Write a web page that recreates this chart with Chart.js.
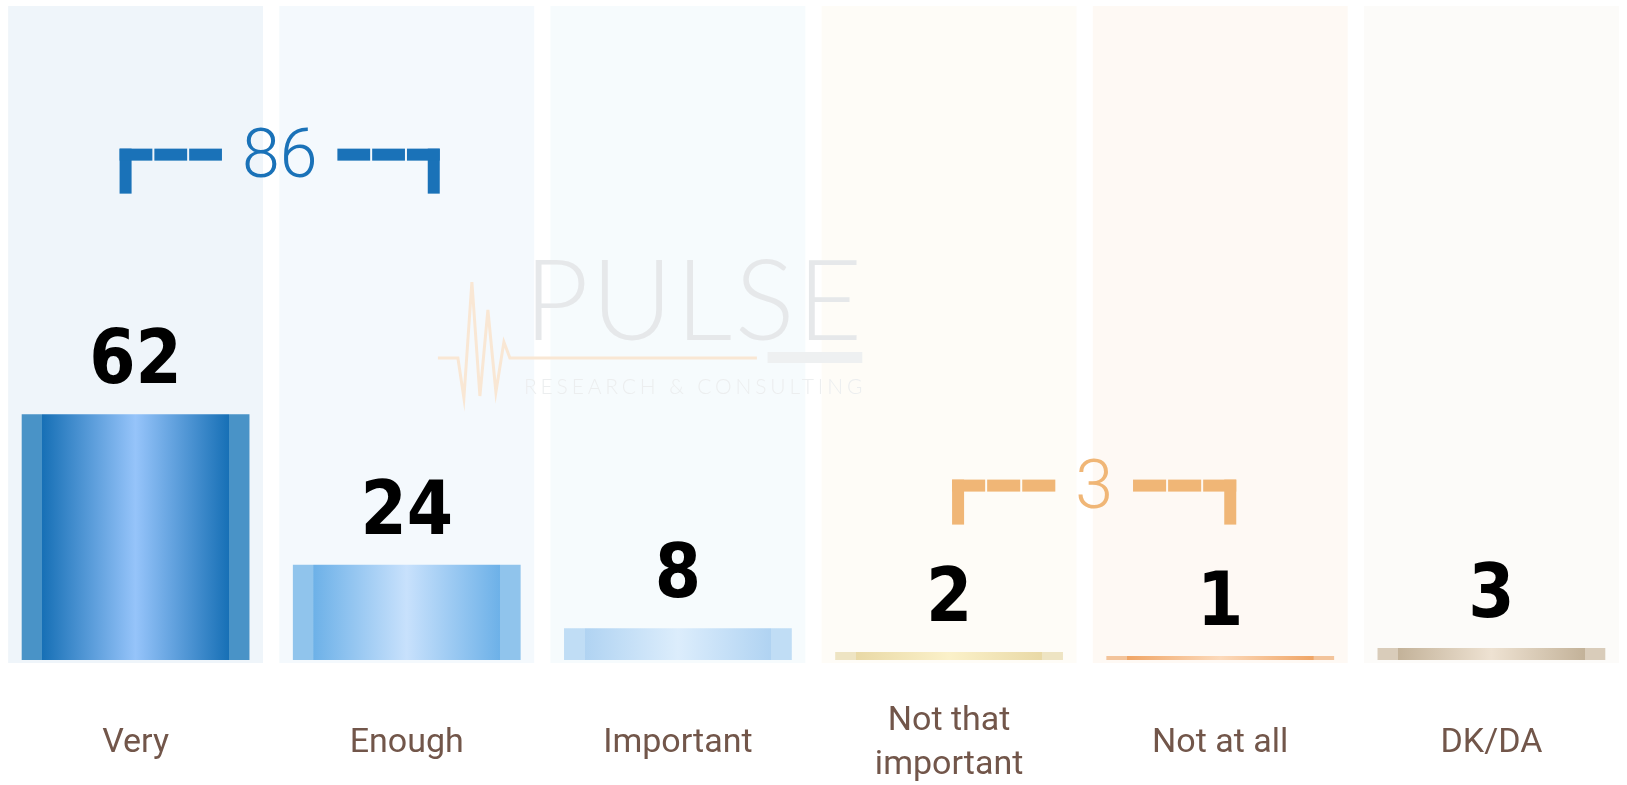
<!DOCTYPE html>
<html>
<head>
<meta charset="utf-8">
<script src="https://cdn.jsdelivr.net/npm/chart.js@4.4.1/dist/chart.umd.min.js"></script>
<style>
    html, body { margin: 0; padding: 0; background: #fff; }
    #wrap { width: 1627px; height: 785px; }
</style>
</head>
<body>
<div id="wrap"><canvas id="chart" width="1627" height="785"></canvas></div>
<script>
// Data
const categories = ["Very", "Enough", "Important", ["Not that", "important"], "Not at all", "DK/DA"];
const values = [62, 24, 8, 2, 1, 3];

// Bracket groups (sum of two answers)
const bracketFrom = [0, 3];
const bracketTo = [1, 4];
const bracketTotals = [86, 3];
const bracketLevels = [127.5, 44];

// Styles
const columnColors = ['#eff5fa', '#f4f9fd', '#f6fbfd', '#fefcf7', '#fef9f4', '#fcfbf9'];
const barEdge = ['#4993c7', '#90c4ec', '#c0ddf5', '#eee4c3', '#f3c49b', '#d9ccba'];
const barDark = ['#1770b6', '#6db1e8', '#b0d3f2', '#e9d9a6', '#f0a565', '#c3b299'];
const barLight = ['#96c4fa', '#c8e1fc', '#dcedfc', '#fbf1c9', '#fcdabb', '#eee2d2'];
const bracketColors = ['#1a72b8', '#f0b676'];
const bracketShift = [[-10, 27], [9, 10]];

const BAR_PCT = 0.84;
const condensed = "'Liberation Sans Narrow', 'DejaVu Sans Condensed', 'Roboto', sans-serif";

function barGradient(context) {
    const chart = context.chart;
    const i = context.dataIndex;
    const x = chart.scales.x;
    if (!chart.chartArea || !x) return barEdge[i];
    const cx = x.getPixelForValue(i);
    const w = x.width / categories.length * BAR_PCT;
    const g = chart.ctx.createLinearGradient(cx - w / 2, 0, cx + w / 2, 0);
    g.addColorStop(0, barEdge[i]);
    g.addColorStop(0.09, barEdge[i]);
    g.addColorStop(0.091, barDark[i]);
    g.addColorStop(0.5, barLight[i]);
    g.addColorStop(0.909, barDark[i]);
    g.addColorStop(0.91, barEdge[i]);
    g.addColorStop(1, barEdge[i]);
    return g;
}

// Column panels + watermark behind the bars
const backdropPlugin = {
    id: 'backdrop',
    beforeDraw(chart) {
        const ctx = chart.ctx;
        ctx.save();
        ctx.fillStyle = '#fff';
        ctx.fillRect(0, 0, chart.width, chart.height);
        ctx.restore();
    },
    beforeDatasetsDraw(chart) {
        const { ctx, chartArea, scales } = chart;
        const step = scales.x.width / categories.length;
        ctx.save();
        categories.forEach((c, i) => {
            const cx = scales.x.getPixelForValue(i);
            const w = step * 0.94;
            ctx.fillStyle = columnColors[i];
            ctx.fillRect(cx - w / 2, chartArea.top, w, chartArea.bottom - chartArea.top + 3);
        });

        // watermark
        const wx = chart.width * 0.322;
        const ww = chart.width * 0.208;
        ctx.fillStyle = '#e6e8ea';
        ctx.font = "300 112px Lato, 'Open Sans', sans-serif";
        ctx.textBaseline = 'alphabetic';
        ctx.textAlign = 'left';
        let m = ctx.measureText('PULSE').width;
        ctx.letterSpacing = ((ww - m) / 4) + 'px';
        ctx.fillText('PULSE', wx, 340);
        ctx.font = "300 21px Lato, 'Open Sans', sans-serif";
        ctx.letterSpacing = '0px';
        m = ctx.measureText('RESEARCH & CONSULTING').width;
        ctx.letterSpacing = ((ww - m) / 20) + 'px';
        ctx.fillStyle = '#eceeef';
        ctx.fillText('RESEARCH & CONSULTING', wx, 394);
        ctx.letterSpacing = '0px';
        ctx.fillStyle = '#eef0f1';
        ctx.fillRect(wx + ww * 0.72, 352, ww * 0.28, 11);

        ctx.strokeStyle = '#f9e7d4';
        ctx.lineWidth = 3;
        ctx.beginPath();
        const hb = [[-86, 358], [-66, 358], [-60, 398], [-52, 282], [-44, 396], [-36, 310], [-28, 392], [-20, 342], [-14, 358], [233, 358]];
        hb.forEach((p, k) => {
            if (k === 0) ctx.moveTo(wx + p[0], p[1]);
            else ctx.lineTo(wx + p[0], p[1]);
        });
        ctx.stroke();
        ctx.restore();
    }
};

// Value labels and group brackets
const labelsPlugin = {
    id: 'valueLabels',
    afterDatasetsDraw(chart) {
        const { ctx, scales } = chart;
        const meta = chart.getDatasetMeta(0);
        ctx.save();
        ctx.fillStyle = '#000';
        ctx.font = "bold 74px " + condensed;
        ctx.textAlign = 'center';
        ctx.textBaseline = 'alphabetic';
        meta.data.forEach((bar, i) => {
            ctx.fillText(String(values[i]), bar.x, bar.y - 31);
        });

        const thick = 12;
        const drop = 45;
        bracketTotals.forEach((total, b) => {
            const x1 = scales.x.getPixelForValue(bracketFrom[b]) + bracketShift[b][0];
            const x2 = scales.x.getPixelForValue(bracketTo[b]) + bracketShift[b][1];
            const y = scales.y.getPixelForValue(bracketLevels[b]);
            const mid = (x1 + x2) / 2;
            ctx.fillStyle = bracketColors[b];
            ctx.fillRect(x1 - thick / 2, y - thick / 2, thick, drop);
            ctx.fillRect(x2 - thick / 2, y - thick / 2, thick, drop);
            ctx.font = "300 68px Roboto, sans-serif";
            ctx.textBaseline = 'middle';
            const label = String(total);
            const tw = ctx.measureText(label).width;
            const gap = 20;
            const segs = [[x1 - thick / 2, mid - tw / 2 - gap], [mid + tw / 2 + gap, x2 + thick / 2]];
            segs.forEach(([a, e]) => {
                const len = (e - a - 4) / 3;
                for (let k = 0; k < 3; k++) {
                    ctx.fillRect(a + k * (len + 2), y - thick / 2, len, thick);
                }
            });
            ctx.fillText(label, mid, y + 5);
        });
        ctx.restore();
    }
};

new Chart(document.getElementById('chart'), {
    type: 'bar',
    data: {
        labels: categories,
        datasets: [{
            data: values,
            backgroundColor: barGradient,
            borderWidth: 0,
            categoryPercentage: 1,
            barPercentage: BAR_PCT
        }]
    },
    options: {
        responsive: false,
        animation: false,
        layout: { padding: { top: 6, left: 0, right: 0, bottom: 0 } },
        scales: {
            x: {
                grid: { display: false },
                border: { display: false },
                ticks: {
                    color: '#72564a',
                    font: { family: 'Roboto, sans-serif', size: 34, lineHeight: 1.32 },
                    padding: 53,
                    crossAlign: 'center',
                    maxRotation: 0,
                    autoSkip: false
                },
                afterFit(scale) { scale.height = 125; }
            },
            y: {
                display: false,
                min: 0,
                max: 165
            }
        },
        plugins: {
            legend: { display: false },
            tooltip: { enabled: false }
        }
    },
    plugins: [backdropPlugin, labelsPlugin]
});
</script>
</body>
</html>
